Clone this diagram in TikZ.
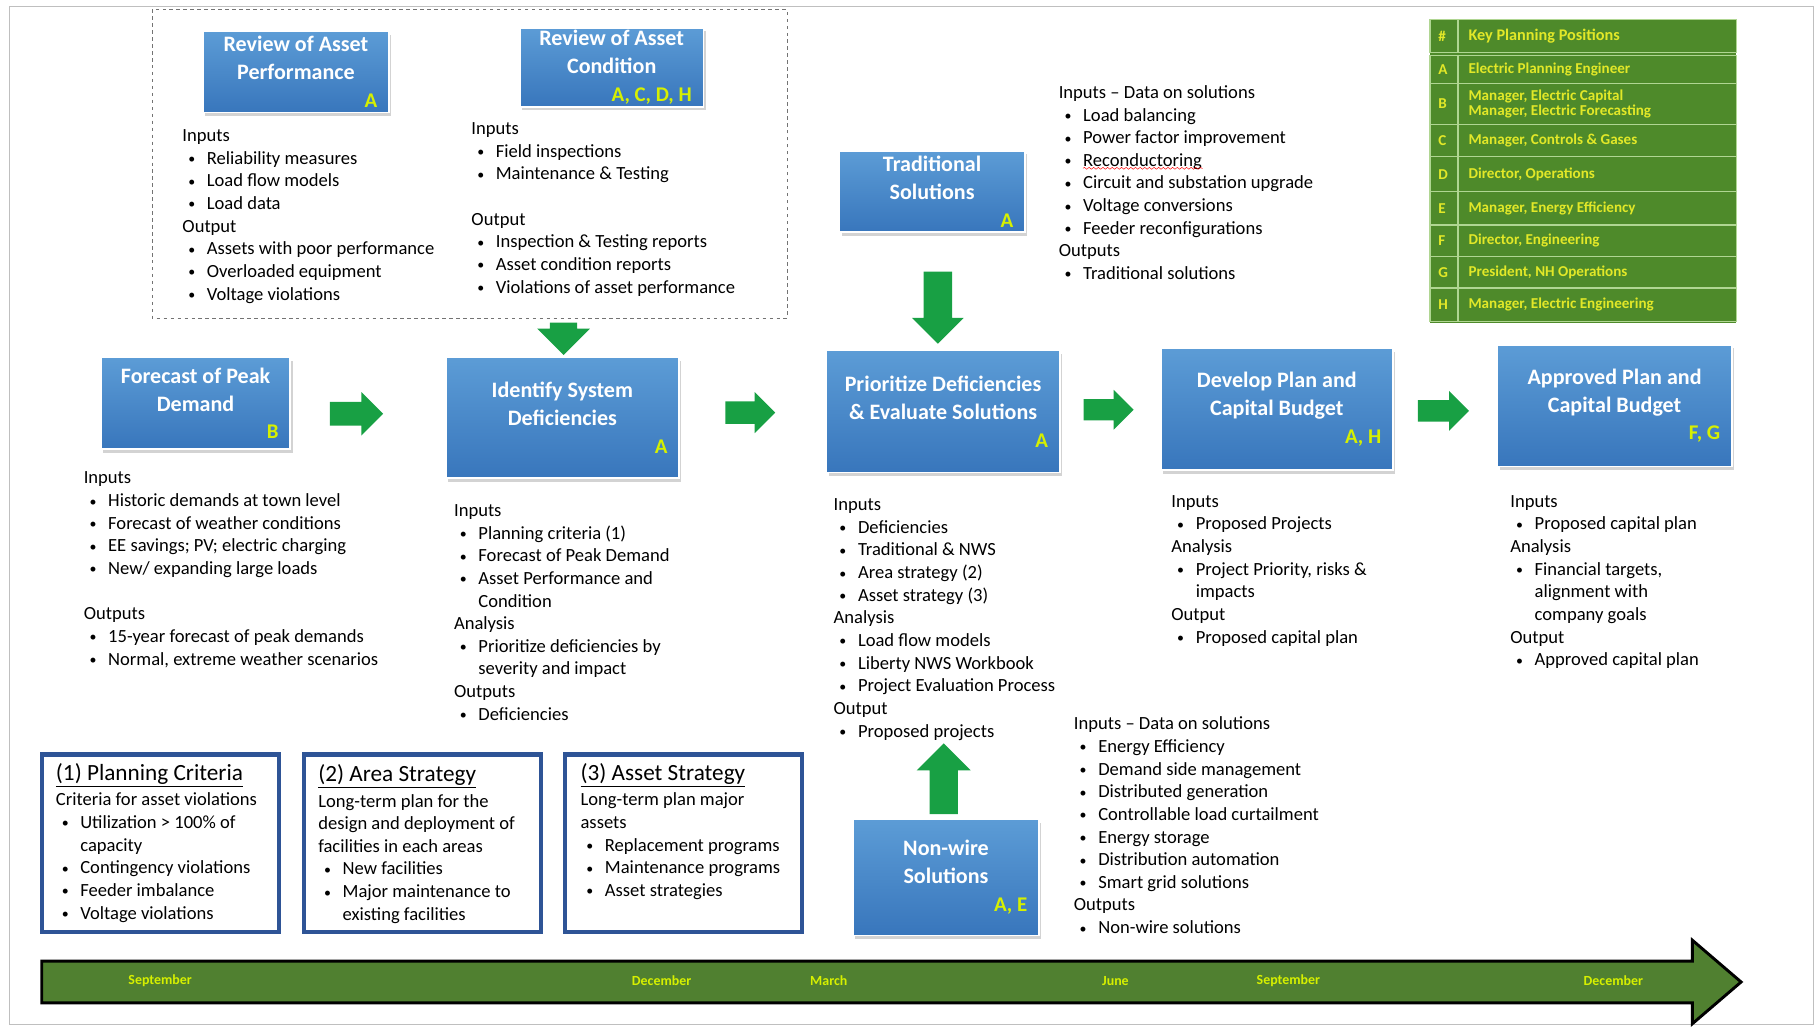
\documentclass[tikz,border=0pt]{standalone}
\usepackage{fontspec}
\setmainfont{Carlito}
\usetikzlibrary{shapes.arrows,shadows,decorations.pathmorphing}

\definecolor{boxtop}{RGB}{92,156,214}
\definecolor{boxbot}{RGB}{56,118,188}
\definecolor{tagyellow}{RGB}{214,240,0}
\definecolor{arrgreen}{RGB}{24,160,68}
\definecolor{keygreen}{RGB}{78,138,42}
\definecolor{keyline}{RGB}{176,214,146}
\definecolor{keytext}{RGB}{226,232,40}
\definecolor{timegreen}{RGB}{80,128,48}
\definecolor{critblue}{RGB}{46,84,150}

\newcommand{\bul}[1]{\makebox[21pt][l]{\hspace{5pt}\raisebox{0.5pt}{\fontsize{12}{12}\selectfont•}}#1}
\newcommand{\cont}[1]{\hspace{21pt}#1}
\newcommand{\tagline}[1]{\\\makebox[\linewidth][r]{\color{tagyellow}\fontsize{18}{24}\selectfont #1}}

\tikzset{
  proc/.style={rectangle, top color=boxtop, bottom color=boxbot, draw=white, line width=1.5pt,
    text=white, font=\fontsize{19}{24}\selectfont\bfseries, align=flush center, inner xsep=10pt, inner ysep=0pt,
    drop shadow={shadow xshift=2pt, shadow yshift=-3pt, opacity=0.35}},
  txt/.style={anchor=north west, inner sep=0pt, align=left, font=\fontsize{16}{19.5}\selectfont,
    execute at begin node=\strut},
  blockarr/.style={single arrow, fill=arrgreen, draw=none, inner xsep=0pt,
    single arrow head indent=0pt, single arrow tip angle=90},
  vblockarr/.style={blockarr, inner ysep=0pt, inner xsep=#1},
  critbox/.style={rectangle, draw=critblue, line width=3.5pt, fill=white},
  crittitle/.style={anchor=base west, inner sep=0pt, font=\fontsize{20}{22}\selectfont},
  keyrow/.style={fill=keygreen, draw=keyline, line width=1.2pt},
  keytxt/.style={anchor=west, inner sep=0pt, text=keytext, font=\fontsize{13}{13}\selectfont\bfseries, align=left},
  month/.style={inner sep=0pt, text=tagyellow, font=\fontsize{12}{14}\selectfont\bfseries}
}

\begin{document}
\begin{tikzpicture}[x=1pt,y=-1pt]
\useasboundingbox (0,0) rectangle (1568,884);
\draw[black!25] (8,5) rectangle (1562,882);
\draw[black!55, dashed] (131,8) rectangle (678,274);

\node[proc, text width=140pt, minimum height=70pt] (rap) at (255,62) {Review of Asset\\Performance\tagline{A}};
\node[proc, text width=138pt, minimum height=68pt] (rac) at (527,58) {Review of Asset\\Condition\tagline{A, C, D, H}};
\node[proc, text width=140pt, minimum height=70pt] (trad) at (803,165) {Traditional\\Solutions\tagline{A}};
\node[proc, text width=143pt, minimum height=79pt] (fpd) at (168.5,347.5) {Forecast of Peak\\Demand\tagline{B}};
\node[proc, text width=181pt, minimum height=104pt] (isd) at (484.5,360) {Identify System\\Deficiencies\tagline{A}};
\node[proc, text width=181pt, minimum height=105pt] (pde) at (812.5,354.5) {Prioritize Deficiencies\\\& Evaluate Solutions\tagline{A}};
\node[proc, text width=180pt, minimum height=105pt] (dpc) at (1100,352.5) {Develop Plan and\\Capital Budget\tagline{A, H}};
\node[proc, text width=182pt, minimum height=105pt] (apc) at (1391,349.5) {Approved Plan and\\Capital Budget\tagline{F, G}};
\node[proc, text width=140pt, minimum height=100pt] (nws) at (815,756) {Non-wire\\Solutions\tagline{A, E}};

\node[blockarr, minimum height=46pt, inner ysep=10pt, single arrow head extend=8.5pt] (fpd-isd) at (302,356.5) {};
\node[blockarr, minimum height=43pt, inner ysep=9.5pt, single arrow head extend=8pt] (isd-pde) at (641.5,355.5) {};
\node[blockarr, minimum height=43pt, inner ysep=9pt, single arrow head extend=8pt] (pde-dpc) at (950.5,353) {};
\node[blockarr, minimum height=44pt, inner ysep=9pt, single arrow head extend=8pt] (dpc-apc) at (1239,354) {};
\node[vblockarr=11.5pt, shape border rotate=270, minimum height=28pt, single arrow head extend=11pt] (rev-isd) at (485.5,286) {};
\node[vblockarr=12pt, shape border rotate=270, minimum height=62pt, single arrow head extend=10pt] (trad-pde) at (808,259) {};
\node[vblockarr=12pt, shape border rotate=90, minimum height=61pt, single arrow head extend=11pt] (nws-pde) at (813,677) {};

\node[txt] (rapnote) at (157,111.5) {Inputs\\\bul{Reliability measures}\\\bul{Load flow models}\\\bul{Load data}\\Output\\\bul{Assets with poor performance}\\\bul{Overloaded equipment}\\\bul{Voltage violations}};
\node[txt] (racnote) at (406,105.5) {Inputs\\\bul{Field inspections}\\\bul{Maintenance \& Testing}\\[19.5pt]Output\\\bul{Inspection \& Testing reports}\\\bul{Asset condition reports}\\\bul{Violations of asset performance}};
\node[txt] (tradnote) at (912,73.5) {Inputs – Data on solutions\\\bul{Load balancing}\\\bul{Power factor improvement}\\\bul{Reconductoring}\\\bul{Circuit and substation upgrade}\\\bul{Voltage conversions}\\\bul{Feeder reconfigurations}\\Outputs\\\bul{Traditional solutions}};
\draw[red, decorate, decoration={snake, amplitude=0.8pt, segment length=4pt}] (933,145) -- (1036,145);
\node[txt] (fpdnote) at (72,406.5) {Inputs\\\bul{Historic demands at town level}\\\bul{Forecast of weather conditions}\\\bul{EE savings; PV; electric charging}\\\bul{New/ expanding large loads}\\[19.5pt]Outputs\\\bul{15-year forecast of peak demands}\\\bul{Normal, extreme weather scenarios}};
\node[txt] (isdnote) at (391,434.5) {Inputs\\\bul{Planning criteria (1)}\\\bul{Forecast of Peak Demand}\\\bul{Asset Performance and}\\\cont{Condition}\\Analysis\\\bul{Prioritize deficiencies by}\\\cont{severity and impact}\\Outputs\\\bul{Deficiencies}};
\node[txt] (pdenote) at (718,429.5) {Inputs\\\bul{Deficiencies}\\\bul{Traditional \& NWS}\\\bul{Area strategy (2)}\\\bul{Asset strategy (3)}\\Analysis\\\bul{Load flow models}\\\bul{Liberty NWS Workbook}\\\bul{Project Evaluation Process}\\Output\\\bul{Proposed projects}};
\node[txt] (dpcnote) at (1009,426.5) {Inputs\\\bul{Proposed Projects}\\Analysis\\\bul{Project Priority, risks \&}\\\cont{impacts}\\Output\\\bul{Proposed capital plan}};
\node[txt] (apcnote) at (1301,426.5) {Inputs\\\bul{Proposed capital plan}\\Analysis\\\bul{Financial targets,}\\\cont{alignment with}\\\cont{company goals}\\Output\\\bul{Approved capital plan}};
\node[txt] (nwsnote) at (925,617.5) {Inputs – Data on solutions\\\bul{Energy Efficiency}\\\bul{Demand side management}\\\bul{Distributed generation}\\\bul{Controllable load curtailment}\\\bul{Energy storage}\\\bul{Distribution automation}\\\bul{Smart grid solutions}\\Outputs\\\bul{Non-wire solutions}};

\node[critbox, minimum width=204pt, minimum height=153pt] (crit1) at (138,726.5) {};
\node[critbox, minimum width=204pt, minimum height=153pt] (crit2) at (364,726.5) {};
\node[critbox, minimum width=204pt, minimum height=153pt] (crit3) at (589,726.5) {};
\node[crittitle] (crit1t) at (48,672.5) {\underline{(1) Planning Criteria}};
\node[crittitle] (crit2t) at (274,673.5) {\underline{(2) Area Strategy}};
\node[crittitle] (crit3t) at (500,672.5) {\underline{(3) Asset Strategy}};
\node[txt] (crit1b) at (48,683) {Criteria for asset violations\\\bul{Utilization > 100\% of}\\\cont{capacity}\\\bul{Contingency violations}\\\bul{Feeder imbalance}\\\bul{Voltage violations}};
\node[txt] (crit2b) at (274,684) {Long-term plan for the\\design and deployment of\\facilities in each areas\\\bul{New facilities}\\\bul{Major maintenance to}\\\cont{existing facilities}};
\node[txt] (crit3b) at (500,683) {Long-term plan major\\assets\\\bul{Replacement programs}\\\bul{Maintenance programs}\\\bul{Asset strategies}};

\fill[keygreen] (1232,17) rectangle (1496,278);
\draw[keyrow] (1232,17) rectangle (1496,45);
\node[keytxt] (keyhash) at (1239,31) {\#};
\node[keytxt, font=\fontsize{14}{14}\selectfont\bfseries] (keyhead) at (1265,31) {Key Planning Positions};
\foreach \ltr/\who/\ya/\yb in {A/{Electric Planning Engineer}/48/72,
    B/{Manager, Electric Capital\\Manager, Electric Forecasting}/72/107,
    C/{Manager, Controls \& Gases}/107/135,
    D/{Director, Operations}/135/165,
    E/{Manager, Energy Efficiency}/165/194,
    F/{Director, Engineering}/194/221,
    G/{President, NH Operations}/221/248,
    H/{Manager, Electric Engineering}/248/277}{
  \draw[keyrow] (1232,\ya) rectangle (1496,\yb);
  \node[keytxt] (key\ltr) at (1239,{(\ya+\yb)/2}) {\ltr};
  \node[keytxt] (who\ltr) at (1265,{(\ya+\yb)/2}) {\who};
}
\draw[keyline, line width=1.2pt] (1256,17) -- (1256,45);
\draw[keyline, line width=1.2pt] (1256,48) -- (1256,277);

\draw[black, line width=2.5pt, fill=timegreen, line join=miter]
  (36,828) -- (1458,828) -- (1458,810) -- (1500,846) -- (1458,882) -- (1458,864) -- (36,864) -- cycle;
\node[month] (m1) at (138,845) {September};
\node[month] (m2) at (570,845) {December};
\node[month] (m3) at (714,845) {March};
\node[month] (m4) at (961,845) {June};
\node[month] (m5) at (1110,845) {September};
\node[month] (m6) at (1390,845) {December};
\end{tikzpicture}
\end{document}
